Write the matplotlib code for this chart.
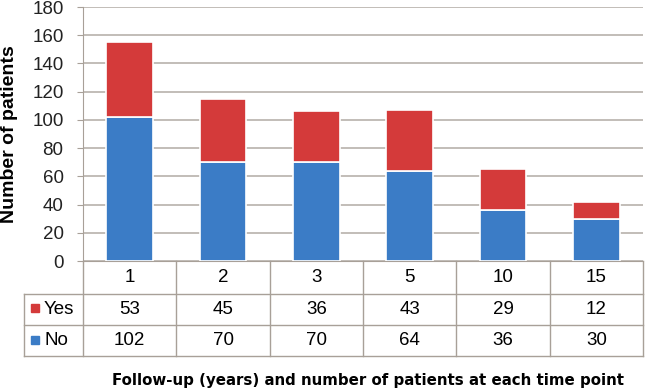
import matplotlib.pyplot as plt
from matplotlib.transforms import blended_transform_factory

plt.rcParams['font.family'] = ['Liberation Sans', 'DejaVu Sans']

years = ['1', '2', '3', '5', '10', '15']
no_counts = [102, 70, 70, 64, 36, 30]
yes_counts = [53, 45, 36, 43, 29, 12]

BLUE = '#3b7cc6'
RED = '#d43a3a'
GRID = '#b8b2ac'
TABLE = '#a8a098'

W, H = 645, 391
fig = plt.figure(figsize=(W / 100, H / 100), dpi=100)
ax = fig.add_axes([83 / W, 1 - 261 / H, (643 - 83) / W, (261 - 7) / H])

x = range(len(years))
ax.bar(x, no_counts, width=0.5, color=BLUE, edgecolor='white', linewidth=1.2, zorder=3)
ax.bar(x, yes_counts, width=0.5, bottom=no_counts, color=RED, edgecolor='white',
       linewidth=1.2, zorder=3)

ax.set_xlim(-0.5, len(years) - 0.5)
ax.set_ylim(0, 180)
ax.set_yticks(range(0, 181, 20))
ax.yaxis.grid(True, color=GRID, linewidth=1.2, zorder=0)
ax.set_xticks([])
ax.tick_params(axis='y', labelsize=13.5, length=4, pad=10, color=TABLE,
               labelcolor='#222222')
for s in ['top', 'right']:
    ax.spines[s].set_visible(False)
ax.spines['left'].set_color(TABLE)
ax.spines['bottom'].set_color(TABLE)
ax.set_ylabel('Number of patients', fontsize=14, fontweight='bold')
ax.yaxis.set_label_coords((18 - 83) / 560, 0.5)

# data table below the axis
ah = 261 - 7
def yf(py):
    return -(py - 261) / ah

tr = blended_transform_factory(ax.transData, ax.transAxes)
fx = blended_transform_factory(fig.transFigure, ax.transAxes)
left_x = 24 / W
right_x = 643 / W
kw = dict(color=TABLE, linewidth=1.0, clip_on=False)

# horizontal lines
for py in [294, 325, 356]:
    ax.plot([left_x, right_x], [yf(py), yf(py)], transform=fx, **kw)
ax.plot([right_x, right_x], [yf(261), yf(356)], transform=fx, **kw)
ax.plot([83 / W, 83 / W], [yf(261), yf(356)], transform=fx, **kw)
ax.plot([left_x, left_x], [yf(294), yf(356)], transform=fx, **kw)
for i in range(len(years) - 1):
    ax.plot([i + 0.5, i + 0.5], [yf(261), yf(356)], transform=tr, **kw)

fs = 13.5
for i, yr in enumerate(years):
    ax.text(i, yf(277.5), yr, transform=tr, ha='center', va='center', fontsize=fs)
    ax.text(i, yf(309.5), str(yes_counts[i]), transform=tr, ha='center', va='center',
            fontsize=fs)
    ax.text(i, yf(340.5), str(no_counts[i]), transform=tr, ha='center', va='center',
            fontsize=fs)

ax.plot([35 / W], [yf(308)], marker='s', markersize=6, color=RED, transform=fx,
        clip_on=False)
ax.plot([35 / W], [yf(340)], marker='s', markersize=6, color=BLUE, transform=fx,
        clip_on=False)
ax.text(44 / W, yf(309.5), 'Yes', transform=fx, ha='left', va='center', fontsize=fs)
ax.text(44 / W, yf(340.5), 'No', transform=fx, ha='left', va='center', fontsize=fs)

fig.text(368 / W, 1 - 380 / H, 'Follow-up (years) and number of patients at each time point',
         ha='center', va='center', fontsize=10.8, fontweight='bold', family='DejaVu Sans')

fig.savefig('out.png', dpi=100)
